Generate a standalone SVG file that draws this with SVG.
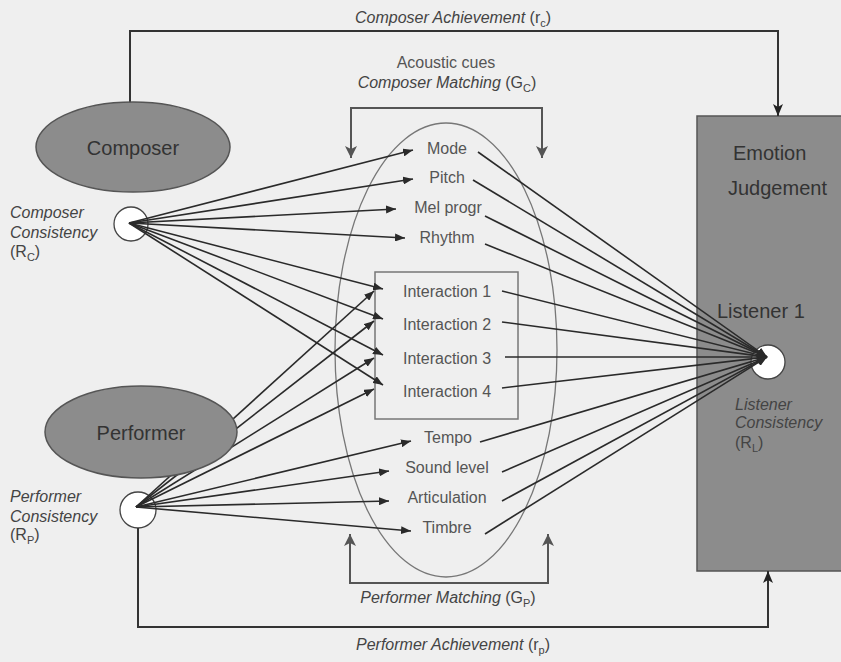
<svg xmlns="http://www.w3.org/2000/svg" width="841" height="662" viewBox="0 0 841 662">
  <defs>
    <marker id="arr" viewBox="0 0 10 8" markerUnits="userSpaceOnUse" markerWidth="10" markerHeight="8" refX="10" refY="4" orient="auto">
      <path d="M0,0 L10,4 L0,8 z" fill="#2a2a2a"/>
    </marker>
    <marker id="arrG" viewBox="0 0 12 12" markerUnits="userSpaceOnUse" markerWidth="12" markerHeight="12" refX="12" refY="6" orient="auto">
      <path d="M0,0 L12,6 L0,12 L3,6 z" fill="#555"/>
    </marker>
    <marker id="arrK" viewBox="0 0 12 10" markerUnits="userSpaceOnUse" markerWidth="12" markerHeight="10" refX="12" refY="5" orient="auto">
      <path d="M0,0 L12,5 L0,10 L3,5 z" fill="#222"/>
    </marker>
    <style>
      text { font-family: "Liberation Sans", Arial, sans-serif; }
      .cue { font-size: 16px; fill: #555; text-anchor: middle; }
      .lab { font-size: 16px; fill: #444; font-style: italic; }
      .up { font-style: normal; }
      .sub { font-size: 11px; }
      .mid { text-anchor: middle; }
      .big { font-size: 20px; fill: #333; }
      .ln { stroke: #2a2a2a; stroke-width: 1.6; fill: none; marker-end: url(#arr); }
      .ach { stroke: #333; stroke-width: 2; fill: none; marker-end: url(#arrK); }
      .brk { stroke: #555; stroke-width: 2; fill: none; marker-end: url(#arrG); }
      .gray { fill: #8c8c8c; stroke: #555; stroke-width: 1.5; }
      .hole { fill: #fff; stroke: #444; stroke-width: 1.3; }
    </style>
  </defs>

  <rect x="0" y="0" width="841" height="662" fill="#efefef"/>

  <!-- Emotion judgement panel -->
  <g id="judgement">
    <rect x="697" y="116" width="160" height="455" class="gray"/>
    <text x="733" y="160" class="big">Emotion</text>
    <text x="728" y="195" class="big">Judgement</text>
    <text x="717" y="318" class="big">Listener 1</text>
  </g>

  <!-- cue ellipse and interaction box -->
  <g id="cues">
    <ellipse cx="446" cy="350" rx="111" ry="227" fill="none" stroke="#777" stroke-width="1.3"/>
    <rect x="375" y="272" width="143" height="147" fill="none" stroke="#777" stroke-width="1.5"/>
    <text x="447" y="154" class="cue">Mode</text>
    <text x="447" y="183" class="cue">Pitch</text>
    <text x="448" y="213" class="cue">Mel progr</text>
    <text x="447" y="243" class="cue">Rhythm</text>
    <text x="447" y="297" class="cue">Interaction 1</text>
    <text x="447" y="330" class="cue">Interaction 2</text>
    <text x="447" y="364" class="cue">Interaction 3</text>
    <text x="447" y="397" class="cue">Interaction 4</text>
    <text x="448" y="443" class="cue">Tempo</text>
    <text x="447" y="473" class="cue">Sound level</text>
    <text x="447" y="503" class="cue">Articulation</text>
    <text x="447" y="533" class="cue">Timbre</text>
  </g>

  <!-- consistency points -->
  <g id="composer-consistency">
    <circle cx="131" cy="224" r="17" class="hole"/>
    <text x="10" y="218" class="lab">Composer</text>
    <text x="10" y="238" class="lab">Consistency</text>
    <text x="10" y="257" class="lab up">(R<tspan class="sub" dy="4">C</tspan><tspan dy="-4">)</tspan></text>
  </g>
  <g id="performer-consistency">
    <circle cx="138" cy="510" r="18" class="hole"/>
    <text x="10" y="502" class="lab">Performer</text>
    <text x="10" y="522" class="lab">Consistency</text>
    <text x="10" y="540" class="lab up">(R<tspan class="sub" dy="4">P</tspan><tspan dy="-4">)</tspan></text>
  </g>
  <g id="listener-consistency">
    <circle cx="768" cy="362" r="17" class="hole"/>
    <text x="735" y="410" class="lab">Listener</text>
    <text x="735" y="428" class="lab">Consistency</text>
    <text x="735" y="448" class="lab up">(R<tspan class="sub" dy="4">L</tspan><tspan dy="-4">)</tspan></text>
  </g>

  <!-- connectors -->
  <g id="connectors">
    <!-- achievement paths -->
    <path d="M130,120 V31 H778 V116" class="ach"/>
    <path d="M138,528 V627 H768 V571" class="ach"/>
    <!-- matching brackets -->
    <path d="M351,116 V108 H542 V116" stroke="#555" stroke-width="2" fill="none"/>
    <line x1="351" y1="110" x2="351" y2="158" class="brk"/>
    <line x1="542" y1="110" x2="542" y2="158" class="brk"/>
    <path d="M350,575 V583 H548 V575" stroke="#555" stroke-width="2" fill="none"/>
    <line x1="350" y1="581" x2="350" y2="534" class="brk"/>
    <line x1="548" y1="581" x2="548" y2="534" class="brk"/>

    <!-- composer to cues -->
    <line x1="129" y1="223" x2="413" y2="150" class="ln"/>
    <line x1="129" y1="223" x2="413" y2="179" class="ln"/>
    <line x1="129" y1="223" x2="396" y2="209" class="ln"/>
    <line x1="129" y1="223" x2="405" y2="238" class="ln"/>
    <line x1="129" y1="223" x2="383" y2="289" class="ln"/>
    <line x1="129" y1="223" x2="383" y2="319" class="ln"/>
    <line x1="129" y1="223" x2="383" y2="355" class="ln"/>
    <line x1="129" y1="223" x2="383" y2="385" class="ln"/>

    <!-- performer to cues -->
    <line x1="136" y1="507" x2="374" y2="291" class="ln"/>
    <line x1="136" y1="507" x2="374" y2="321" class="ln"/>
    <line x1="136" y1="507" x2="374" y2="358" class="ln"/>
    <line x1="136" y1="507" x2="374" y2="389" class="ln"/>
    <line x1="136" y1="507" x2="411" y2="441" class="ln"/>
    <line x1="136" y1="507" x2="389" y2="471" class="ln"/>
    <line x1="136" y1="507" x2="389" y2="501" class="ln"/>
    <line x1="136" y1="507" x2="411" y2="531" class="ln"/>

    <!-- cues to listener -->
    <line x1="478" y1="152" x2="767" y2="357" class="ln"/>
    <line x1="473" y1="180" x2="767" y2="357" class="ln"/>
    <line x1="485" y1="216" x2="767" y2="357" class="ln"/>
    <line x1="485" y1="244" x2="767" y2="357" class="ln"/>
    <line x1="502" y1="291" x2="767" y2="357" class="ln"/>
    <line x1="502" y1="322" x2="767" y2="357" class="ln"/>
    <line x1="505" y1="357" x2="767" y2="357" class="ln"/>
    <line x1="502" y1="388" x2="767" y2="357" class="ln"/>
    <line x1="480" y1="442" x2="767" y2="357" class="ln"/>
    <line x1="502" y1="472" x2="767" y2="357" class="ln"/>
    <line x1="502" y1="501" x2="767" y2="357" class="ln"/>
    <line x1="485" y1="534" x2="767" y2="357" class="ln"/>
  </g>

  <!-- sources -->
  <g id="composer">
    <ellipse cx="133" cy="147" rx="97" ry="45" class="gray"/>
    <text x="133" y="155" class="big mid" font-size="21">Composer</text>
  </g>
  <g id="performer">
    <ellipse cx="141" cy="432" rx="96" ry="46" class="gray"/>
    <text x="141" y="440" class="big mid">Performer</text>
  </g>

  <!-- captions -->
  <g id="captions">
    <text x="453" y="23" class="lab mid">Composer Achievement <tspan class="up">(r<tspan class="sub" dy="4">c</tspan><tspan dy="-4">)</tspan></tspan></text>
    <text x="446" y="68" class="cue" fill="#444">Acoustic cues</text>
    <text x="447" y="88" class="lab mid">Composer Matching <tspan class="up">(G<tspan class="sub" dy="4">C</tspan><tspan dy="-4">)</tspan></tspan></text>
    <text x="448" y="603" class="lab mid">Performer Matching <tspan class="up">(G<tspan class="sub" dy="4">P</tspan><tspan dy="-4">)</tspan></tspan></text>
    <text x="453" y="650" class="lab mid">Performer Achievement <tspan class="up">(r<tspan class="sub" dy="4">p</tspan><tspan dy="-4">)</tspan></tspan></text>
  </g>
</svg>
